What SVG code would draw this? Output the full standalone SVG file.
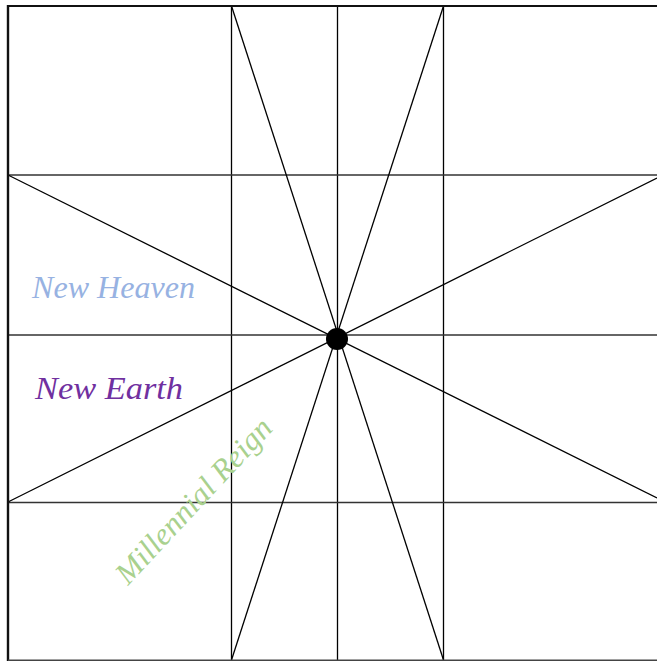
<svg xmlns="http://www.w3.org/2000/svg" width="657" height="661" viewBox="0 0 657 661">
<style>
.v{stroke:#000;stroke-width:1.3;fill:none}
.h{stroke:#333;stroke-width:1.6;fill:none}
.d{stroke:#000;stroke-width:1.3;fill:none}
.lbl{font-family:"Liberation Serif",serif;font-style:italic}
</style>
<rect width="657" height="661" fill="#fff"/>
<g id="connectors">
<line class="v" x1="231.5" y1="6" x2="231.5" y2="660"/>
<line class="v" x1="337.5" y1="6" x2="337.5" y2="660"/>
<line class="v" x1="443.5" y1="6" x2="443.5" y2="660"/>
<line class="h" x1="8" y1="175" x2="657" y2="175"/>
<line class="h" x1="8" y1="335" x2="657" y2="335"/>
<line class="h" x1="8" y1="502.5" x2="657" y2="502.5"/>
<line class="d" x1="231.5" y1="6" x2="443.5" y2="660"/>
<line class="d" x1="443.5" y1="6" x2="231.5" y2="660"/>
<line class="d" x1="8" y1="175" x2="657" y2="498"/>
<line class="d" x1="8" y1="502" x2="657" y2="178"/>
</g>
<g id="frame">
<line x1="8" y1="6" x2="657" y2="6" stroke="#111" stroke-width="2.2"/>
<line x1="8" y1="5" x2="8" y2="661" stroke="#111" stroke-width="2.4"/>
<line x1="8" y1="660.3" x2="657" y2="660.3" stroke="#444" stroke-width="1.4"/>
</g>
<g id="center">
<circle cx="337" cy="339" r="11" fill="#000"/>
</g>
<g id="new-heaven">
<text class="lbl" x="32" y="298" font-size="32" fill="#97b2e2" textLength="163" lengthAdjust="spacingAndGlyphs">New Heaven</text>
</g>
<g id="new-earth">
<text class="lbl" x="35" y="399" font-size="32" fill="#7030a0" textLength="148" lengthAdjust="spacingAndGlyphs">New Earth</text>
</g>
<g id="millennial-reign">
<text class="lbl" x="0" y="0" font-size="31" fill="#a9d18e" textLength="214" lengthAdjust="spacingAndGlyphs" transform="translate(128,586) rotate(-47)">Millennial Reign</text>
</g>
</svg>
